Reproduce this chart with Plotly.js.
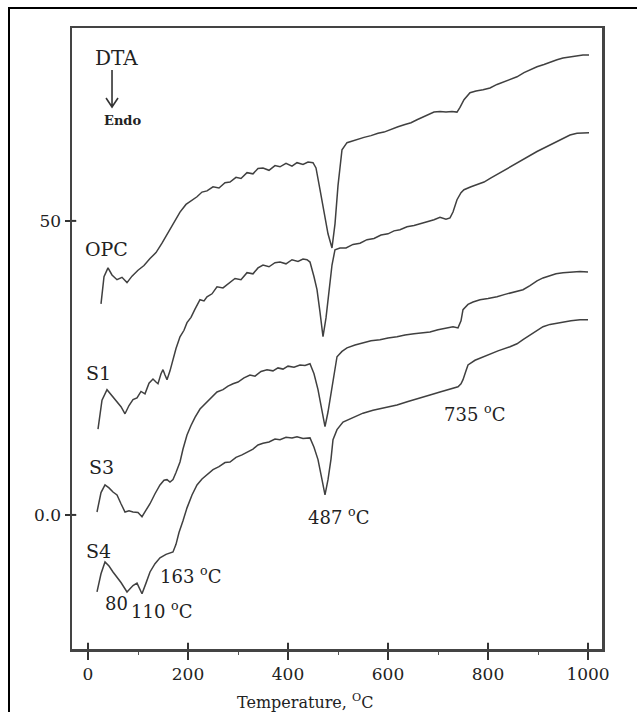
<!DOCTYPE html>
<html>
<head>
<meta charset="utf-8">
<script src="https://cdn.plot.ly/plotly-3.0.1.min.js"></script>
<style>
html,body{margin:0;padding:0;background:#fff;overflow:hidden;}
#wrap{position:relative;width:637px;height:712px;overflow:hidden;}
#chart{position:absolute;left:0;top:0;width:637px;height:712px;}
#frame{position:absolute;left:8px;top:7px;width:700px;height:800px;border-top:2px solid #000;border-left:2px solid #000;pointer-events:none;}
</style>
</head>
<body>
<div id="wrap"><div id="chart"></div><div id="frame"></div></div>
<script>
// ---- Data ----
const tempOPC = [26,32,40,48,58,68,78,88,100,112,124,136,148,160,172,184,196,206,218,228,238,250,262,274,284,296,306,318,330,340,350,362,374,384,396,408,418,430,440,450,456,464,472,480,488,494,500,508,518,528,538,552,566,580,592,606,620,634,646,658,670,682,692,704,716,728,738,744,752,764,776,790,804,818,832,846,858,872,884,898,912,924,938,950,964,978,990,1002];
const dtaOPC  = [35.9,40.5,42.0,40.8,40.0,40.4,39.5,40.6,41.6,42.4,43.6,44.6,46.2,48.0,49.8,51.5,52.8,53.4,54.1,54.9,55.1,55.8,55.6,56.5,56.6,57.4,57.2,58.2,58.0,58.9,59.0,58.6,59.4,59.2,59.8,59.3,59.9,59.6,60.0,59.9,59.0,55.3,51.5,47.8,45.4,49.5,56.0,62.1,63.3,63.6,63.8,64.2,64.5,64.9,65.1,65.6,66.0,66.4,66.7,67.2,67.7,68.1,68.5,68.6,68.5,68.6,68.5,69.3,70.6,71.8,72.1,72.3,72.6,73.2,73.7,74.1,74.5,75.2,75.7,76.2,76.6,77.0,77.4,77.7,77.9,78.1,78.2,78.2];

const tempS1 = [20,28,38,48,58,66,74,82,90,98,106,114,122,130,136,140,146,150,154,158,164,170,176,184,192,198,206,214,224,232,238,248,258,270,284,294,306,318,330,340,350,362,374,384,396,408,420,430,438,444,452,458,464,470,476,482,488,494,504,516,530,544,558,572,586,600,612,624,638,652,666,680,692,704,716,724,730,738,746,752,766,780,792,806,820,834,846,858,872,886,898,912,924,938,950,964,978,990,1002];
const dtaS1  = [14.6,19.5,21.3,20.2,19.2,18.4,17.2,18.6,19.6,19.9,21.0,20.6,22.4,23.1,22.6,22.3,24.0,24.7,23.8,23.0,24.5,26.5,28.3,30.3,31.4,32.7,33.6,35.0,36.6,36.4,37.1,37.6,38.8,38.6,39.5,40.2,40.0,41.2,41.0,42.0,42.5,42.2,42.9,43.0,42.7,43.4,43.1,43.5,43.4,43.0,40.5,38.3,34.5,30.3,33.5,38.5,42.5,45.1,45.4,45.4,46.0,46.2,46.8,47.0,47.6,47.8,48.3,48.5,49.0,49.2,49.6,49.9,50.2,50.6,50.3,50.5,51.5,53.6,54.8,55.3,55.8,56.2,56.6,57.3,58.0,58.7,59.3,59.9,60.6,61.3,61.8,62.4,62.9,63.6,64.1,64.6,64.9,65.0,65.0];

const tempS3 = [18,26,34,42,50,58,66,74,82,90,100,108,116,124,134,144,152,158,164,170,176,184,190,198,206,214,224,234,246,258,270,280,290,300,312,324,334,346,358,370,380,390,400,412,424,434,444,452,460,468,474,480,486,490,498,508,518,534,550,566,584,600,618,634,652,668,684,700,716,730,740,746,750,760,770,784,800,818,834,852,870,884,898,910,924,936,950,966,984,1000];
const dtaS3  = [0.5,3.8,5.1,4.6,3.9,3.4,1.9,0.5,0.7,0.5,0.4,-0.3,0.8,1.9,3.6,5.1,5.9,6.0,5.6,6.0,7.2,9.0,11.2,13.6,15.2,16.6,18.0,18.9,19.8,20.9,21.3,21.9,22.3,22.6,23.3,23.8,23.6,24.4,24.7,24.5,25.0,24.8,25.3,25.1,25.5,25.4,25.7,24.0,21.3,17.5,15.0,17.5,20.5,23.0,26.9,27.8,28.4,28.9,29.3,29.6,29.8,30.1,30.3,30.6,30.8,31.0,31.1,31.5,31.7,32.0,31.8,33.0,34.9,35.8,36.2,36.6,36.8,37.1,37.5,37.9,38.3,39.0,39.8,40.3,40.7,41.0,41.2,41.3,41.4,41.3];

const tempS4 = [18,26,34,42,50,58,66,78,84,90,98,104,108,116,124,134,144,156,170,176,182,190,198,208,218,228,240,250,262,274,284,296,308,318,330,340,350,362,374,384,396,408,418,430,444,452,460,468,474,480,486,490,498,510,530,550,570,590,618,640,662,684,704,724,740,746,750,756,760,774,790,806,820,844,858,870,884,898,910,924,936,950,966,984,1000];
const dtaS4  = [-13.1,-10.0,-8.0,-8.7,-9.7,-10.6,-11.5,-13.1,-12.6,-12.0,-11.6,-12.6,-13.4,-11.6,-9.7,-8.3,-7.3,-6.7,-6.3,-5.0,-3.0,-1.0,1.2,3.4,5.1,6.1,7.0,7.7,8.2,8.9,9.0,9.8,10.2,10.7,11.2,11.9,12.2,12.4,12.9,12.8,13.2,13.1,13.3,13.0,13.1,11.5,9.4,6.0,3.4,6.0,9.5,12.8,14.5,15.8,16.6,17.3,17.8,18.2,18.7,19.3,19.9,20.4,20.9,21.4,21.8,22.3,23.0,24.5,25.5,26.3,26.9,27.4,27.9,28.6,29.1,29.8,30.6,31.4,32.0,32.4,32.6,32.8,33.0,33.2,33.2];

const xTickVals = [0,200,400,600,800,1000];
const xTickText = ['0','200','400','600','800','1000'];
const yTickVals = [0,50];
const yTickText = ['0.0','50'];

const seriesNames = ['OPC','S1','S3','S4'];
const seriesX = [tempOPC,tempS1,tempS3,tempS4];
const seriesY = [dtaOPC,dtaS1,dtaS3,dtaS4];

// ---- Chart ----
const lineColor = '#404040';
const serif = 'DejaVu Serif, Liberation Serif, serif';
const traces = seriesNames.map((n,i)=>({
  x: seriesX[i], y: seriesY[i], name: n, type:'scatter', mode:'lines',
  line:{color:lineColor, width:1.5, shape:'linear'}, hoverinfo:'x+y+name'
}));

const txt = (x,y,t,size,extra)=>Object.assign({x:x,y:y,xref:'x',yref:'y',text:t,showarrow:false,
  xanchor:'center',yanchor:'middle',font:{family:serif,size:size,color:'#222'}},extra||{});

const annotations = [
  txt(56,77.7,'DTA',20),
  txt(68,67.0,'<b>Endo</b>',13),
  txt(36,45.2,'OPC',19),
  txt(20,24.1,'S1',19),
  txt(26,8.2,'S3',19),
  txt(20,-6.1,'S4',19),
  txt(204,-10.2,'163 <sup>o</sup>C',18),
  txt(56,-15.0,'80',18),
  txt(146,-16.2,'110 <sup>o</sup>C',18),
  txt(500,-0.2,'487 <sup>o</sup>C',18),
  txt(772,17.3,'735 <sup>o</sup>C',18),
  {x:0.44,y:-0.085,xref:'paper',yref:'paper',xanchor:'center',yanchor:'middle',text:'Temperature, <sup>O</sup>C',showarrow:false,
   font:{family:serif,size:16,color:'#222'}}
];

// "Endo" arrow (open V head), paper coordinates
const arrowPath = 'M0.0755,0.9324 L0.0755,0.8728 M0.0642,0.8873 L0.0755,0.8728 L0.0868,0.8873';

// inner halves of the major ticks (reference ticks cross the axis line)
const innerTicks = xTickVals.map(v=>({type:'line',xref:'x',yref:'paper',x0:v,x1:v,y0:0,y1:0.01,line:{color:'#333',width:2}}))
  .concat(yTickVals.map(v=>({type:'line',xref:'paper',yref:'y',x0:0,x1:0.008,y0:v,y1:v,line:{color:'#333',width:2}})));

const layout = {
  width:637, height:712,
  margin:{l:72,r:35,t:28,b:63},
  paper_bgcolor:'rgba(0,0,0,0)', plot_bgcolor:'#ffffff',
  showlegend:false,
  font:{family:serif,size:17,color:'#222'},
  xaxis:{range:[-32,1028], tickvals:xTickVals, ticktext:xTickText, ticks:'outside', ticklen:8, tickwidth:2,
    tickcolor:'#333', showline:true, linecolor:'#444', linewidth:2.5, mirror:true, showgrid:false, zeroline:false,
    tickfont:{family:serif,size:17,color:'#222'},
    minor:{dtick:100, tick0:0, ticks:'outside', ticklen:3, tickwidth:1, tickcolor:'#555'}},
  yaxis:{range:[-22.8,82.8], tickvals:yTickVals, ticktext:yTickText, ticks:'outside', ticklen:5, tickwidth:2,
    tickcolor:'#333', showline:true, linecolor:'#444', linewidth:2.5, mirror:true, showgrid:false, zeroline:false,
    tickfont:{family:serif,size:17,color:'#222'}},
  annotations: annotations,
  shapes:[
    {type:'path',xref:'paper',yref:'paper',path:arrowPath,line:{color:'#333',width:1.6}}
  ].concat(innerTicks)
};

Plotly.newPlot('chart', traces, layout, {staticPlot:true, displayModeBar:false});
</script>
</body>
</html>
